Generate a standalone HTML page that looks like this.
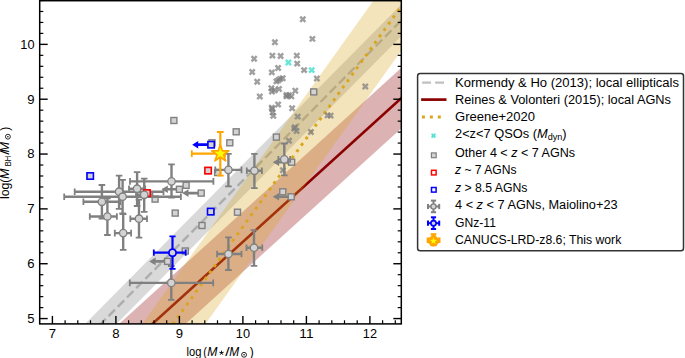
<!DOCTYPE html><html><head><meta charset="utf-8"><style>html,body{margin:0;padding:0;background:#fff;}svg{display:block;}text{font-family:"Liberation Sans",sans-serif;}</style></head><body>
<svg width="685" height="358" viewBox="0 0 685 358">
<defs><clipPath id="ax"><rect x="39.7" y="0.7" width="361.6" height="323.2"/></clipPath></defs>
<rect width="685" height="358" fill="#fff"/>
<g clip-path="url(#ax)">
<line x1="-11.1" y1="437.03" x2="433.4" y2="-12.11" stroke="#c0c0c0" stroke-width="2.4" stroke-dasharray="9.15 3.95" stroke-dashoffset="0.22"/>
<polygon points="-11.1,421.12 433.4,-28.02 433.4,3.79 -11.1,452.93" fill="#808080" fill-opacity="0.3"/>
<line x1="-11.1" y1="472.12" x2="433.4" y2="69.05" stroke="#8b0000" stroke-width="2.6"/>
<polygon points="-11.1,441.96 433.4,38.89 433.4,99.21 -11.1,502.29" fill="#8b0000" fill-opacity="0.3"/>
<line x1="-11.1" y1="580.07" x2="433.4" y2="-38.36" stroke="#daa520" stroke-width="2.96" stroke-dasharray="2.96 4.9" stroke-dashoffset="7.27"/>
<polygon points="-11.1,538.62 433.4,-83.27 433.4,5.95 -11.1,625.91" fill="#daa520" fill-opacity="0.3"/>
<polygon points="301.07,15.85 302.8,17.57 304.53,15.85 306.25,17.57 304.53,19.3 306.25,21.03 304.53,22.75 302.8,21.03 301.07,22.75 299.35,21.03 301.07,19.3 299.35,17.57" fill="#808080" fill-opacity="0.75"/>
<polygon points="310.67,35.45 312.4,37.17 314.12,35.45 315.85,37.17 314.12,38.9 315.85,40.62 314.12,42.35 312.4,40.62 310.67,42.35 308.95,40.62 310.67,38.9 308.95,37.17" fill="#808080" fill-opacity="0.75"/>
<polygon points="273.17,38.75 274.9,40.48 276.62,38.75 278.35,40.48 276.62,42.2 278.35,43.93 276.62,45.65 274.9,43.93 273.17,45.65 271.45,43.93 273.17,42.2 271.45,40.48" fill="#808080" fill-opacity="0.75"/>
<polygon points="270.67,52.15 272.4,53.88 274.12,52.15 275.85,53.88 274.12,55.6 275.85,57.33 274.12,59.05 272.4,57.33 270.67,59.05 268.95,57.33 270.67,55.6 268.95,53.88" fill="#808080" fill-opacity="0.75"/>
<polygon points="278.88,52.55 280.6,54.27 282.33,52.55 284.05,54.27 282.33,56 284.05,57.73 282.33,59.45 280.6,57.73 278.88,59.45 277.15,57.73 278.88,56 277.15,54.27" fill="#808080" fill-opacity="0.75"/>
<polygon points="295.07,52.15 296.8,53.88 298.53,52.15 300.25,53.88 298.53,55.6 300.25,57.33 298.53,59.05 296.8,57.33 295.07,59.05 293.35,57.33 295.07,55.6 293.35,53.88" fill="#808080" fill-opacity="0.75"/>
<polygon points="252.38,55.35 254.1,57.07 255.82,55.35 257.55,57.07 255.82,58.8 257.55,60.52 255.82,62.25 254.1,60.52 252.38,62.25 250.65,60.52 252.38,58.8 250.65,57.07" fill="#808080" fill-opacity="0.75"/>
<polygon points="295.47,60.15 297.2,61.88 298.93,60.15 300.65,61.88 298.93,63.6 300.65,65.33 298.93,67.05 297.2,65.33 295.47,67.05 293.75,65.33 295.47,63.6 293.75,61.88" fill="#808080" fill-opacity="0.75"/>
<polygon points="302.38,66.65 304.1,68.38 305.83,66.65 307.55,68.38 305.83,70.1 307.55,71.82 305.83,73.55 304.1,71.82 302.38,73.55 300.65,71.82 302.38,70.1 300.65,68.38" fill="#808080" fill-opacity="0.75"/>
<polygon points="250.47,68.55 252.2,70.28 253.92,68.55 255.65,70.28 253.92,72 255.65,73.72 253.92,75.45 252.2,73.72 250.47,75.45 248.75,73.72 250.47,72 248.75,70.28" fill="#808080" fill-opacity="0.75"/>
<polygon points="270.07,68.95 271.8,70.68 273.53,68.95 275.25,70.68 273.53,72.4 275.25,74.12 273.53,75.85 271.8,74.12 270.07,75.85 268.35,74.12 270.07,72.4 268.35,70.68" fill="#808080" fill-opacity="0.75"/>
<polygon points="276.38,64.55 278.1,66.28 279.83,64.55 281.55,66.28 279.83,68 281.55,69.72 279.83,71.45 278.1,69.72 276.38,71.45 274.65,69.72 276.38,68 274.65,66.28" fill="#808080" fill-opacity="0.75"/>
<polygon points="255.47,78.25 257.2,79.98 258.93,78.25 260.65,79.98 258.93,81.7 260.65,83.42 258.93,85.15 257.2,83.42 255.47,85.15 253.75,83.42 255.47,81.7 253.75,79.98" fill="#808080" fill-opacity="0.75"/>
<polygon points="274.67,77.95 276.4,79.68 278.12,77.95 279.85,79.68 278.12,81.4 279.85,83.12 278.12,84.85 276.4,83.12 274.67,84.85 272.95,83.12 274.67,81.4 272.95,79.68" fill="#808080" fill-opacity="0.75"/>
<polygon points="278.47,75.45 280.2,77.18 281.93,75.45 283.65,77.18 281.93,78.9 283.65,80.62 281.93,82.35 280.2,80.62 278.47,82.35 276.75,80.62 278.47,78.9 276.75,77.18" fill="#808080" fill-opacity="0.75"/>
<polygon points="280.97,74.85 282.7,76.58 284.43,74.85 286.15,76.58 284.43,78.3 286.15,80.02 284.43,81.75 282.7,80.02 280.97,81.75 279.25,80.02 280.97,78.3 279.25,76.58" fill="#808080" fill-opacity="0.75"/>
<polygon points="276.57,76.75 278.3,78.48 280.03,76.75 281.75,78.48 280.03,80.2 281.75,81.92 280.03,83.65 278.3,81.92 276.57,83.65 274.85,81.92 276.57,80.2 274.85,78.48" fill="#808080" fill-opacity="0.75"/>
<polygon points="269.67,84.85 271.4,86.58 273.12,84.85 274.85,86.58 273.12,88.3 274.85,90.02 273.12,91.75 271.4,90.02 269.67,91.75 267.95,90.02 269.67,88.3 267.95,86.58" fill="#808080" fill-opacity="0.75"/>
<polygon points="272.88,86.75 274.6,88.48 276.33,86.75 278.05,88.48 276.33,90.2 278.05,91.92 276.33,93.65 274.6,91.92 272.88,93.65 271.15,91.92 272.88,90.2 271.15,88.48" fill="#808080" fill-opacity="0.75"/>
<polygon points="277.27,85.55 279,87.28 280.73,85.55 282.45,87.28 280.73,89 282.45,90.72 280.73,92.45 279,90.72 277.27,92.45 275.55,90.72 277.27,89 275.55,87.28" fill="#808080" fill-opacity="0.75"/>
<polygon points="270.27,88.05 272,89.78 273.73,88.05 275.45,89.78 273.73,91.5 275.45,93.22 273.73,94.95 272,93.22 270.27,94.95 268.55,93.22 270.27,91.5 268.55,89.78" fill="#808080" fill-opacity="0.75"/>
<polygon points="284.77,91.55 286.5,93.28 288.23,91.55 289.95,93.28 288.23,95 289.95,96.72 288.23,98.45 286.5,96.72 284.77,98.45 283.05,96.72 284.77,95 283.05,93.28" fill="#808080" fill-opacity="0.75"/>
<polygon points="287.27,91.85 289,93.58 290.73,91.85 292.45,93.58 290.73,95.3 292.45,97.02 290.73,98.75 289,97.02 287.27,98.75 285.55,97.02 287.27,95.3 285.55,93.58" fill="#808080" fill-opacity="0.75"/>
<polygon points="293.57,87.35 295.3,89.08 297.03,87.35 298.75,89.08 297.03,90.8 298.75,92.52 297.03,94.25 295.3,92.52 293.57,94.25 291.85,92.52 293.57,90.8 291.85,89.08" fill="#808080" fill-opacity="0.75"/>
<polygon points="258.07,93.05 259.8,94.78 261.53,93.05 263.25,94.78 261.53,96.5 263.25,98.22 261.53,99.95 259.8,98.22 258.07,99.95 256.35,98.22 258.07,96.5 256.35,94.78" fill="#808080" fill-opacity="0.75"/>
<polygon points="315.07,75.05 316.8,76.78 318.53,75.05 320.25,76.78 318.53,78.5 320.25,80.22 318.53,81.95 316.8,80.22 315.07,81.95 313.35,80.22 315.07,78.5 313.35,76.78" fill="#808080" fill-opacity="0.75"/>
<polygon points="284.77,92.95 286.5,94.68 288.23,92.95 289.95,94.68 288.23,96.4 289.95,98.12 288.23,99.85 286.5,98.12 284.77,99.85 283.05,98.12 284.77,96.4 283.05,94.68" fill="#808080" fill-opacity="0.75"/>
<polygon points="289.67,92.95 291.4,94.68 293.12,92.95 294.85,94.68 293.12,96.4 294.85,98.12 293.12,99.85 291.4,98.12 289.67,99.85 287.95,98.12 289.67,96.4 287.95,94.68" fill="#808080" fill-opacity="0.75"/>
<polygon points="276.38,101.05 278.1,102.78 279.83,101.05 281.55,102.78 279.83,104.5 281.55,106.22 279.83,107.95 278.1,106.22 276.38,107.95 274.65,106.22 276.38,104.5 274.65,102.78" fill="#808080" fill-opacity="0.75"/>
<polygon points="270.57,105.55 272.3,107.28 274.03,105.55 275.75,107.28 274.03,109 275.75,110.72 274.03,112.45 272.3,110.72 270.57,112.45 268.85,110.72 270.57,109 268.85,107.28" fill="#808080" fill-opacity="0.75"/>
<polygon points="270.88,108.95 272.6,110.68 274.33,108.95 276.05,110.68 274.33,112.4 276.05,114.12 274.33,115.85 272.6,114.12 270.88,115.85 269.15,114.12 270.88,112.4 269.15,110.68" fill="#808080" fill-opacity="0.75"/>
<polygon points="271.57,112.45 273.3,114.18 275.03,112.45 276.75,114.18 275.03,115.9 276.75,117.62 275.03,119.35 273.3,117.62 271.57,119.35 269.85,117.62 271.57,115.9 269.85,114.18" fill="#808080" fill-opacity="0.75"/>
<polygon points="290.38,104.85 292.1,106.58 293.83,104.85 295.55,106.58 293.83,108.3 295.55,110.02 293.83,111.75 292.1,110.02 290.38,111.75 288.65,110.02 290.38,108.3 288.65,106.58" fill="#808080" fill-opacity="0.75"/>
<polygon points="295.97,113.15 297.7,114.88 299.43,113.15 301.15,114.88 299.43,116.6 301.15,118.32 299.43,120.05 297.7,118.32 295.97,120.05 294.25,118.32 295.97,116.6 294.25,114.88" fill="#808080" fill-opacity="0.75"/>
<polygon points="293.17,123.65 294.9,125.38 296.62,123.65 298.35,125.38 296.62,127.1 298.35,128.82 296.62,130.55 294.9,128.82 293.17,130.55 291.45,128.82 293.17,127.1 291.45,125.38" fill="#808080" fill-opacity="0.75"/>
<polygon points="294.88,127.55 296.6,129.28 298.33,127.55 300.05,129.28 298.33,131 300.05,132.72 298.33,134.45 296.6,132.72 294.88,134.45 293.15,132.72 294.88,131 293.15,129.28" fill="#808080" fill-opacity="0.75"/>
<polygon points="292.47,125.05 294.2,126.78 295.93,125.05 297.65,126.78 295.93,128.5 297.65,130.22 295.93,131.95 294.2,130.22 292.47,131.95 290.75,130.22 292.47,128.5 290.75,126.78" fill="#808080" fill-opacity="0.75"/>
<polygon points="309.17,128.55 310.9,130.28 312.62,128.55 314.35,130.28 312.62,132 314.35,133.72 312.62,135.45 310.9,133.72 309.17,135.45 307.45,133.72 309.17,132 307.45,130.28" fill="#808080" fill-opacity="0.75"/>
<polygon points="287.27,137.35 289,139.08 290.73,137.35 292.45,139.08 290.73,140.8 292.45,142.53 290.73,144.25 289,142.53 287.27,144.25 285.55,142.53 287.27,140.8 285.55,139.08" fill="#808080" fill-opacity="0.75"/>
<polygon points="325.88,111.95 327.6,113.68 329.33,111.95 331.05,113.68 329.33,115.4 331.05,117.12 329.33,118.85 327.6,117.12 325.88,118.85 324.15,117.12 325.88,115.4 324.15,113.68" fill="#808080" fill-opacity="0.75"/>
<polygon points="328.88,112.15 330.6,113.88 332.33,112.15 334.05,113.88 332.33,115.6 334.05,117.32 332.33,119.05 330.6,117.32 328.88,119.05 327.15,117.32 328.88,115.6 327.15,113.88" fill="#808080" fill-opacity="0.75"/>
<polygon points="363.57,83.05 365.3,84.78 367.03,83.05 368.75,84.78 367.03,86.5 368.75,88.22 367.03,89.95 365.3,88.22 363.57,89.95 361.85,88.22 363.57,86.5 361.85,84.78" fill="#808080" fill-opacity="0.75"/>
<polygon points="281.17,166.85 282.9,168.58 284.62,166.85 286.35,168.58 284.62,170.3 286.35,172.03 284.62,173.75 282.9,172.03 281.17,173.75 279.45,172.03 281.17,170.3 279.45,168.58" fill="#808080" fill-opacity="0.75"/>
<polygon points="270.07,104.35 271.8,106.08 273.53,104.35 275.25,106.08 273.53,107.8 275.25,109.52 273.53,111.25 271.8,109.52 270.07,111.25 268.35,109.52 270.07,107.8 268.35,106.08" fill="#808080" fill-opacity="0.75"/>
<polygon points="286.67,59.05 288.4,60.77 290.12,59.05 291.85,60.77 290.12,62.5 291.85,64.22 290.12,65.95 288.4,64.22 286.67,65.95 284.95,64.22 286.67,62.5 284.95,60.77" fill="#40e0d0" fill-opacity="0.8"/>
<polygon points="309.97,66.65 311.7,68.38 313.43,66.65 315.15,68.38 313.43,70.1 315.15,71.82 313.43,73.55 311.7,71.82 309.97,73.55 308.25,71.82 309.97,70.1 308.25,68.38" fill="#40e0d0" fill-opacity="0.8"/>
<rect x="170.9" y="117.5" width="6" height="6" fill="#d3d3d3" stroke="#808080" stroke-width="1.4"/>
<rect x="233.2" y="128.8" width="6" height="6" fill="#d3d3d3" stroke="#808080" stroke-width="1.4"/>
<rect x="226.8" y="139.8" width="6" height="6" fill="#d3d3d3" stroke="#808080" stroke-width="1.4"/>
<rect x="209" y="139.8" width="6" height="6" fill="#d3d3d3" stroke="#808080" stroke-width="1.4"/>
<rect x="214.6" y="169.5" width="6" height="6" fill="#d3d3d3" stroke="#808080" stroke-width="1.4"/>
<rect x="152.1" y="196.1" width="6" height="6" fill="#d3d3d3" stroke="#808080" stroke-width="1.4"/>
<line x1="179.4" y1="189.3" x2="167.4" y2="189.3" stroke="#808080" stroke-width="2.6"/><polygon points="161.5,189.3 167.9,185.5 167.9,193.1" fill="#808080"/>
<rect x="176.4" y="186.3" width="6" height="6" fill="#d3d3d3" stroke="#808080" stroke-width="1.4"/>
<rect x="183.1" y="182.3" width="6" height="6" fill="#d3d3d3" stroke="#808080" stroke-width="1.4"/>
<line x1="201.2" y1="193.1" x2="188" y2="193.1" stroke="#808080" stroke-width="2.6"/><polygon points="182.1,193.1 188.5,189.3 188.5,196.9" fill="#808080"/>
<rect x="198.2" y="190.1" width="6" height="6" fill="#d3d3d3" stroke="#808080" stroke-width="1.4"/>
<rect x="172.2" y="210.1" width="6" height="6" fill="#d3d3d3" stroke="#808080" stroke-width="1.4"/>
<rect x="199" y="222.5" width="6" height="6" fill="#d3d3d3" stroke="#808080" stroke-width="1.4"/>
<rect x="182.3" y="248" width="6" height="6" fill="#d3d3d3" stroke="#808080" stroke-width="1.4"/>
<line x1="167.6" y1="261.4" x2="155.1" y2="261.4" stroke="#808080" stroke-width="2.6"/><polygon points="149.2,261.4 155.6,257.6 155.6,265.2" fill="#808080"/>
<rect x="164.6" y="258.4" width="6" height="6" fill="#d3d3d3" stroke="#808080" stroke-width="1.4"/>
<rect x="234.5" y="209.2" width="6" height="6" fill="#d3d3d3" stroke="#808080" stroke-width="1.4"/>
<rect x="279.8" y="188.8" width="6" height="6" fill="#d3d3d3" stroke="#808080" stroke-width="1.4"/>
<line x1="291.2" y1="196.8" x2="278.6" y2="196.8" stroke="#808080" stroke-width="2.6"/><polygon points="272.7,196.8 279.1,193 279.1,200.6" fill="#808080"/>
<rect x="288.2" y="193.8" width="6" height="6" fill="#d3d3d3" stroke="#808080" stroke-width="1.4"/>
<line x1="291.7" y1="162.2" x2="278.6" y2="162.2" stroke="#808080" stroke-width="2.6"/><polygon points="272.7,162.2 279.1,158.4 279.1,166" fill="#808080"/>
<rect x="288.7" y="159.2" width="6" height="6" fill="#d3d3d3" stroke="#808080" stroke-width="1.4"/>
<rect x="273.4" y="134.1" width="6" height="6" fill="#d3d3d3" stroke="#808080" stroke-width="1.4"/>
<rect x="310.7" y="88.9" width="6" height="6" fill="#d3d3d3" stroke="#808080" stroke-width="1.4"/>
<rect x="87.2" y="173" width="6" height="6" fill="#d3d3d3" stroke="#808080" stroke-width="1.4"/>
<rect x="207.7" y="208.6" width="6" height="6" fill="#d3d3d3" stroke="#808080" stroke-width="1.4"/>
<rect x="205.1" y="167.6" width="6" height="6" fill="#d3d3d3" stroke="#808080" stroke-width="1.4"/>
<rect x="144" y="190.1" width="6" height="6" fill="#d3d3d3" stroke="#808080" stroke-width="1.4"/>
<line x1="83.4" y1="201.8" x2="120.4" y2="201.8" stroke="#808080" stroke-width="2.4"/><line x1="83.4" y1="198.5" x2="83.4" y2="205.1" stroke="#808080" stroke-width="1.8"/><line x1="120.4" y1="198.5" x2="120.4" y2="205.1" stroke="#808080" stroke-width="1.8"/><line x1="101.9" y1="185" x2="101.9" y2="218.5" stroke="#808080" stroke-width="2.4"/><line x1="98.6" y1="185" x2="105.2" y2="185" stroke="#808080" stroke-width="1.8"/><line x1="98.6" y1="218.5" x2="105.2" y2="218.5" stroke="#808080" stroke-width="1.8"/>
<line x1="74.7" y1="191.7" x2="163.5" y2="191.7" stroke="#808080" stroke-width="2.4"/><line x1="74.7" y1="188.4" x2="74.7" y2="195" stroke="#808080" stroke-width="1.8"/><line x1="163.5" y1="188.4" x2="163.5" y2="195" stroke="#808080" stroke-width="1.8"/><line x1="119.1" y1="175.7" x2="119.1" y2="208.9" stroke="#808080" stroke-width="2.4"/><line x1="115.8" y1="175.7" x2="122.4" y2="175.7" stroke="#808080" stroke-width="1.8"/><line x1="115.8" y1="208.9" x2="122.4" y2="208.9" stroke="#808080" stroke-width="1.8"/>
<line x1="64.2" y1="196.7" x2="180.9" y2="196.7" stroke="#808080" stroke-width="2.4"/><line x1="64.2" y1="193.4" x2="64.2" y2="200" stroke="#808080" stroke-width="1.8"/><line x1="180.9" y1="193.4" x2="180.9" y2="200" stroke="#808080" stroke-width="1.8"/><line x1="122.6" y1="179.9" x2="122.6" y2="213.5" stroke="#808080" stroke-width="2.4"/><line x1="119.3" y1="179.9" x2="125.9" y2="179.9" stroke="#808080" stroke-width="1.8"/><line x1="119.3" y1="213.5" x2="125.9" y2="213.5" stroke="#808080" stroke-width="1.8"/>
<line x1="129" y1="188.7" x2="145.2" y2="188.7" stroke="#808080" stroke-width="2.4"/><line x1="129" y1="185.4" x2="129" y2="192" stroke="#808080" stroke-width="1.8"/><line x1="145.2" y1="185.4" x2="145.2" y2="192" stroke="#808080" stroke-width="1.8"/><line x1="137.1" y1="172.2" x2="137.1" y2="206" stroke="#808080" stroke-width="2.4"/><line x1="133.8" y1="172.2" x2="140.4" y2="172.2" stroke="#808080" stroke-width="1.8"/><line x1="133.8" y1="206" x2="140.4" y2="206" stroke="#808080" stroke-width="1.8"/>
<line x1="136" y1="194.8" x2="152.4" y2="194.8" stroke="#808080" stroke-width="2.4"/><line x1="136" y1="191.5" x2="136" y2="198.1" stroke="#808080" stroke-width="1.8"/><line x1="152.4" y1="191.5" x2="152.4" y2="198.1" stroke="#808080" stroke-width="1.8"/><line x1="144.2" y1="178.6" x2="144.2" y2="211.8" stroke="#808080" stroke-width="2.4"/><line x1="140.9" y1="178.6" x2="147.5" y2="178.6" stroke="#808080" stroke-width="1.8"/><line x1="140.9" y1="211.8" x2="147.5" y2="211.8" stroke="#808080" stroke-width="1.8"/>
<line x1="130" y1="181.4" x2="213.4" y2="181.4" stroke="#808080" stroke-width="2.4"/><line x1="130" y1="178.1" x2="130" y2="184.7" stroke="#808080" stroke-width="1.8"/><line x1="213.4" y1="178.1" x2="213.4" y2="184.7" stroke="#808080" stroke-width="1.8"/><line x1="171.5" y1="164.3" x2="171.5" y2="197.5" stroke="#808080" stroke-width="2.4"/><line x1="168.2" y1="164.3" x2="174.8" y2="164.3" stroke="#808080" stroke-width="1.8"/><line x1="168.2" y1="197.5" x2="174.8" y2="197.5" stroke="#808080" stroke-width="1.8"/>
<line x1="89.8" y1="216.5" x2="116.9" y2="216.5" stroke="#808080" stroke-width="2.4"/><line x1="89.8" y1="213.2" x2="89.8" y2="219.8" stroke="#808080" stroke-width="1.8"/><line x1="116.9" y1="213.2" x2="116.9" y2="219.8" stroke="#808080" stroke-width="1.8"/><line x1="107.4" y1="198.4" x2="107.4" y2="235" stroke="#808080" stroke-width="2.4"/><line x1="104.1" y1="198.4" x2="110.7" y2="198.4" stroke="#808080" stroke-width="1.8"/><line x1="104.1" y1="235" x2="110.7" y2="235" stroke="#808080" stroke-width="1.8"/>
<line x1="130.3" y1="218.7" x2="147" y2="218.7" stroke="#808080" stroke-width="2.4"/><line x1="130.3" y1="215.4" x2="130.3" y2="222" stroke="#808080" stroke-width="1.8"/><line x1="147" y1="215.4" x2="147" y2="222" stroke="#808080" stroke-width="1.8"/><line x1="139" y1="199.7" x2="139" y2="237.7" stroke="#808080" stroke-width="2.4"/><line x1="135.7" y1="199.7" x2="142.3" y2="199.7" stroke="#808080" stroke-width="1.8"/><line x1="135.7" y1="237.7" x2="142.3" y2="237.7" stroke="#808080" stroke-width="1.8"/>
<line x1="114.8" y1="233.1" x2="131.1" y2="233.1" stroke="#808080" stroke-width="2.4"/><line x1="114.8" y1="229.8" x2="114.8" y2="236.4" stroke="#808080" stroke-width="1.8"/><line x1="131.1" y1="229.8" x2="131.1" y2="236.4" stroke="#808080" stroke-width="1.8"/><line x1="123.2" y1="214.2" x2="123.2" y2="249.9" stroke="#808080" stroke-width="2.4"/><line x1="119.9" y1="214.2" x2="126.5" y2="214.2" stroke="#808080" stroke-width="1.8"/><line x1="119.9" y1="249.9" x2="126.5" y2="249.9" stroke="#808080" stroke-width="1.8"/>
<line x1="129.8" y1="282.9" x2="213.2" y2="282.9" stroke="#808080" stroke-width="2.4"/><line x1="129.8" y1="279.6" x2="129.8" y2="286.2" stroke="#808080" stroke-width="1.8"/><line x1="213.2" y1="279.6" x2="213.2" y2="286.2" stroke="#808080" stroke-width="1.8"/><line x1="171.3" y1="266" x2="171.3" y2="299.8" stroke="#808080" stroke-width="2.4"/><line x1="168" y1="266" x2="174.6" y2="266" stroke="#808080" stroke-width="1.8"/><line x1="168" y1="299.8" x2="174.6" y2="299.8" stroke="#808080" stroke-width="1.8"/>
<line x1="215.3" y1="169.9" x2="241.5" y2="169.9" stroke="#808080" stroke-width="2.4"/><line x1="215.3" y1="166.6" x2="215.3" y2="173.2" stroke="#808080" stroke-width="1.8"/><line x1="241.5" y1="166.6" x2="241.5" y2="173.2" stroke="#808080" stroke-width="1.8"/><line x1="228.4" y1="153.8" x2="228.4" y2="186.3" stroke="#808080" stroke-width="2.4"/><line x1="225.1" y1="153.8" x2="231.7" y2="153.8" stroke="#808080" stroke-width="1.8"/><line x1="225.1" y1="186.3" x2="231.7" y2="186.3" stroke="#808080" stroke-width="1.8"/>
<line x1="246.8" y1="170.8" x2="261.9" y2="170.8" stroke="#808080" stroke-width="2.4"/><line x1="246.8" y1="167.5" x2="246.8" y2="174.1" stroke="#808080" stroke-width="1.8"/><line x1="261.9" y1="167.5" x2="261.9" y2="174.1" stroke="#808080" stroke-width="1.8"/><line x1="254.4" y1="153.8" x2="254.4" y2="188.1" stroke="#808080" stroke-width="2.4"/><line x1="251.1" y1="153.8" x2="257.7" y2="153.8" stroke="#808080" stroke-width="1.8"/><line x1="251.1" y1="188.1" x2="257.7" y2="188.1" stroke="#808080" stroke-width="1.8"/>
<line x1="278.4" y1="159.4" x2="290.2" y2="159.4" stroke="#808080" stroke-width="2.4"/><line x1="278.4" y1="156.1" x2="278.4" y2="162.7" stroke="#808080" stroke-width="1.8"/><line x1="290.2" y1="156.1" x2="290.2" y2="162.7" stroke="#808080" stroke-width="1.8"/><line x1="284.3" y1="143.5" x2="284.3" y2="175.3" stroke="#808080" stroke-width="2.4"/><line x1="281" y1="143.5" x2="287.6" y2="143.5" stroke="#808080" stroke-width="1.8"/><line x1="281" y1="175.3" x2="287.6" y2="175.3" stroke="#808080" stroke-width="1.8"/>
<line x1="217.1" y1="254" x2="241.5" y2="254" stroke="#808080" stroke-width="2.4"/><line x1="217.1" y1="250.7" x2="217.1" y2="257.3" stroke="#808080" stroke-width="1.8"/><line x1="241.5" y1="250.7" x2="241.5" y2="257.3" stroke="#808080" stroke-width="1.8"/><line x1="228.4" y1="237.3" x2="228.4" y2="270" stroke="#808080" stroke-width="2.4"/><line x1="225.1" y1="237.3" x2="231.7" y2="237.3" stroke="#808080" stroke-width="1.8"/><line x1="225.1" y1="270" x2="231.7" y2="270" stroke="#808080" stroke-width="1.8"/>
<line x1="246.5" y1="247.7" x2="262.3" y2="247.7" stroke="#808080" stroke-width="2.4"/><line x1="246.5" y1="244.4" x2="246.5" y2="251" stroke="#808080" stroke-width="1.8"/><line x1="262.3" y1="244.4" x2="262.3" y2="251" stroke="#808080" stroke-width="1.8"/><line x1="254" y1="230.1" x2="254" y2="265.8" stroke="#808080" stroke-width="2.4"/><line x1="250.7" y1="230.1" x2="257.3" y2="230.1" stroke="#808080" stroke-width="1.8"/><line x1="250.7" y1="265.8" x2="257.3" y2="265.8" stroke="#808080" stroke-width="1.8"/>
<line x1="211.1" y1="144.7" x2="197.7" y2="144.7" stroke="#0000ff" stroke-width="2.8"/><polygon points="192.2,144.7 198.2,140.9 198.2,148.5" fill="#0000ff"/>
<rect x="87" y="172.8" width="6.4" height="6.4" fill="#d3d3d3" stroke="#0000ff" stroke-width="1.6"/>
<rect x="207.9" y="141.5" width="6.4" height="6.4" fill="#d3d3d3" stroke="#0000ff" stroke-width="1.6"/>
<rect x="207.5" y="208.4" width="6.4" height="6.4" fill="#d3d3d3" stroke="#0000ff" stroke-width="1.6"/>
<rect x="204.9" y="167.4" width="6.4" height="6.4" fill="#d3d3d3" stroke="#ff0000" stroke-width="1.6"/>
<rect x="143.8" y="189.9" width="6.4" height="6.4" fill="#d3d3d3" stroke="#ff0000" stroke-width="1.6"/>
<circle cx="101.9" cy="201.8" r="3.7" fill="#d3d3d3" stroke="#808080" stroke-width="1.3"/>
<circle cx="119.1" cy="191.7" r="3.7" fill="#d3d3d3" stroke="#808080" stroke-width="1.3"/>
<circle cx="122.6" cy="196.7" r="3.7" fill="#d3d3d3" stroke="#808080" stroke-width="1.3"/>
<circle cx="137.1" cy="188.7" r="3.7" fill="#d3d3d3" stroke="#808080" stroke-width="1.3"/>
<circle cx="144.2" cy="194.8" r="3.7" fill="#d3d3d3" stroke="#808080" stroke-width="1.3"/>
<circle cx="171.5" cy="181.4" r="3.7" fill="#d3d3d3" stroke="#808080" stroke-width="1.3"/>
<circle cx="107.4" cy="216.5" r="3.7" fill="#d3d3d3" stroke="#808080" stroke-width="1.3"/>
<circle cx="139" cy="218.7" r="3.7" fill="#d3d3d3" stroke="#808080" stroke-width="1.3"/>
<circle cx="123.2" cy="233.1" r="3.7" fill="#d3d3d3" stroke="#808080" stroke-width="1.3"/>
<circle cx="171.3" cy="282.9" r="3.7" fill="#d3d3d3" stroke="#808080" stroke-width="1.3"/>
<circle cx="228.4" cy="169.9" r="3.7" fill="#d3d3d3" stroke="#808080" stroke-width="1.3"/>
<circle cx="254.4" cy="170.8" r="3.7" fill="#d3d3d3" stroke="#808080" stroke-width="1.3"/>
<circle cx="284.3" cy="159.4" r="3.7" fill="#d3d3d3" stroke="#808080" stroke-width="1.3"/>
<circle cx="228.4" cy="254" r="3.7" fill="#d3d3d3" stroke="#808080" stroke-width="1.3"/>
<circle cx="254" cy="247.7" r="3.7" fill="#d3d3d3" stroke="#808080" stroke-width="1.3"/>
<line x1="153.8" y1="252.7" x2="185.7" y2="252.7" stroke="#0000ff" stroke-width="2.2"/><line x1="153.8" y1="249.6" x2="153.8" y2="255.8" stroke="#0000ff" stroke-width="1.8"/><line x1="185.7" y1="249.6" x2="185.7" y2="255.8" stroke="#0000ff" stroke-width="1.8"/><line x1="172.5" y1="236.4" x2="172.5" y2="268.9" stroke="#0000ff" stroke-width="2.2"/><line x1="169.4" y1="236.4" x2="175.6" y2="236.4" stroke="#0000ff" stroke-width="1.8"/><line x1="169.4" y1="268.9" x2="175.6" y2="268.9" stroke="#0000ff" stroke-width="1.8"/>
<circle cx="172.5" cy="252.7" r="3.6" fill="#d3d3d3" stroke="#0000ff" stroke-width="1.8"/>
<line x1="191.8" y1="153.6" x2="225" y2="153.6" stroke="#ffa500" stroke-width="2.2"/><line x1="191.8" y1="150.2" x2="191.8" y2="157" stroke="#ffa500" stroke-width="1.8"/><line x1="225" y1="150.2" x2="225" y2="157" stroke="#ffa500" stroke-width="1.8"/><line x1="220.3" y1="132" x2="220.3" y2="175.6" stroke="#ffa500" stroke-width="2.2"/><line x1="216.9" y1="132" x2="223.7" y2="132" stroke="#ffa500" stroke-width="1.8"/><line x1="216.9" y1="175.6" x2="223.7" y2="175.6" stroke="#ffa500" stroke-width="1.8"/>
<polygon points="220.3,144.6 222.32,150.82 228.86,150.82 223.57,154.66 225.59,160.88 220.3,157.04 215.01,160.88 217.03,154.66 211.74,150.82 218.28,150.82" fill="#ffff00" stroke="#ffa500" stroke-width="1.7" stroke-linejoin="round"/>
</g>
<line x1="52.4" y1="323.9" x2="52.4" y2="315.9" stroke="#000" stroke-width="1.4"/><line x1="65.1" y1="323.9" x2="65.1" y2="320.3" stroke="#000" stroke-width="1.2"/><line x1="77.8" y1="323.9" x2="77.8" y2="320.3" stroke="#000" stroke-width="1.2"/><line x1="90.5" y1="323.9" x2="90.5" y2="320.3" stroke="#000" stroke-width="1.2"/><line x1="103.2" y1="323.9" x2="103.2" y2="320.3" stroke="#000" stroke-width="1.2"/><line x1="115.9" y1="323.9" x2="115.9" y2="315.9" stroke="#000" stroke-width="1.4"/><line x1="128.6" y1="323.9" x2="128.6" y2="320.3" stroke="#000" stroke-width="1.2"/><line x1="141.3" y1="323.9" x2="141.3" y2="320.3" stroke="#000" stroke-width="1.2"/><line x1="154" y1="323.9" x2="154" y2="320.3" stroke="#000" stroke-width="1.2"/><line x1="166.7" y1="323.9" x2="166.7" y2="320.3" stroke="#000" stroke-width="1.2"/><line x1="179.4" y1="323.9" x2="179.4" y2="315.9" stroke="#000" stroke-width="1.4"/><line x1="192.1" y1="323.9" x2="192.1" y2="320.3" stroke="#000" stroke-width="1.2"/><line x1="204.8" y1="323.9" x2="204.8" y2="320.3" stroke="#000" stroke-width="1.2"/><line x1="217.5" y1="323.9" x2="217.5" y2="320.3" stroke="#000" stroke-width="1.2"/><line x1="230.2" y1="323.9" x2="230.2" y2="320.3" stroke="#000" stroke-width="1.2"/><line x1="242.9" y1="323.9" x2="242.9" y2="315.9" stroke="#000" stroke-width="1.4"/><line x1="255.6" y1="323.9" x2="255.6" y2="320.3" stroke="#000" stroke-width="1.2"/><line x1="268.3" y1="323.9" x2="268.3" y2="320.3" stroke="#000" stroke-width="1.2"/><line x1="281" y1="323.9" x2="281" y2="320.3" stroke="#000" stroke-width="1.2"/><line x1="293.7" y1="323.9" x2="293.7" y2="320.3" stroke="#000" stroke-width="1.2"/><line x1="306.4" y1="323.9" x2="306.4" y2="315.9" stroke="#000" stroke-width="1.4"/><line x1="319.1" y1="323.9" x2="319.1" y2="320.3" stroke="#000" stroke-width="1.2"/><line x1="331.8" y1="323.9" x2="331.8" y2="320.3" stroke="#000" stroke-width="1.2"/><line x1="344.5" y1="323.9" x2="344.5" y2="320.3" stroke="#000" stroke-width="1.2"/><line x1="357.2" y1="323.9" x2="357.2" y2="320.3" stroke="#000" stroke-width="1.2"/><line x1="369.9" y1="323.9" x2="369.9" y2="315.9" stroke="#000" stroke-width="1.4"/><line x1="382.6" y1="323.9" x2="382.6" y2="320.3" stroke="#000" stroke-width="1.2"/><line x1="395.3" y1="323.9" x2="395.3" y2="320.3" stroke="#000" stroke-width="1.2"/><line x1="39.7" y1="318.57" x2="47.7" y2="318.57" stroke="#000" stroke-width="1.4"/><line x1="401.3" y1="318.57" x2="393.3" y2="318.57" stroke="#000" stroke-width="1.4"/><line x1="39.7" y1="307.6" x2="43.3" y2="307.6" stroke="#000" stroke-width="1.2"/><line x1="401.3" y1="307.6" x2="397.7" y2="307.6" stroke="#000" stroke-width="1.2"/><line x1="39.7" y1="296.64" x2="43.3" y2="296.64" stroke="#000" stroke-width="1.2"/><line x1="401.3" y1="296.64" x2="397.7" y2="296.64" stroke="#000" stroke-width="1.2"/><line x1="39.7" y1="285.67" x2="43.3" y2="285.67" stroke="#000" stroke-width="1.2"/><line x1="401.3" y1="285.67" x2="397.7" y2="285.67" stroke="#000" stroke-width="1.2"/><line x1="39.7" y1="274.7" x2="43.3" y2="274.7" stroke="#000" stroke-width="1.2"/><line x1="401.3" y1="274.7" x2="397.7" y2="274.7" stroke="#000" stroke-width="1.2"/><line x1="39.7" y1="263.73" x2="47.7" y2="263.73" stroke="#000" stroke-width="1.4"/><line x1="401.3" y1="263.73" x2="393.3" y2="263.73" stroke="#000" stroke-width="1.4"/><line x1="39.7" y1="252.76" x2="43.3" y2="252.76" stroke="#000" stroke-width="1.2"/><line x1="401.3" y1="252.76" x2="397.7" y2="252.76" stroke="#000" stroke-width="1.2"/><line x1="39.7" y1="241.8" x2="43.3" y2="241.8" stroke="#000" stroke-width="1.2"/><line x1="401.3" y1="241.8" x2="397.7" y2="241.8" stroke="#000" stroke-width="1.2"/><line x1="39.7" y1="230.83" x2="43.3" y2="230.83" stroke="#000" stroke-width="1.2"/><line x1="401.3" y1="230.83" x2="397.7" y2="230.83" stroke="#000" stroke-width="1.2"/><line x1="39.7" y1="219.86" x2="43.3" y2="219.86" stroke="#000" stroke-width="1.2"/><line x1="401.3" y1="219.86" x2="397.7" y2="219.86" stroke="#000" stroke-width="1.2"/><line x1="39.7" y1="208.89" x2="47.7" y2="208.89" stroke="#000" stroke-width="1.4"/><line x1="401.3" y1="208.89" x2="393.3" y2="208.89" stroke="#000" stroke-width="1.4"/><line x1="39.7" y1="197.92" x2="43.3" y2="197.92" stroke="#000" stroke-width="1.2"/><line x1="401.3" y1="197.92" x2="397.7" y2="197.92" stroke="#000" stroke-width="1.2"/><line x1="39.7" y1="186.96" x2="43.3" y2="186.96" stroke="#000" stroke-width="1.2"/><line x1="401.3" y1="186.96" x2="397.7" y2="186.96" stroke="#000" stroke-width="1.2"/><line x1="39.7" y1="175.99" x2="43.3" y2="175.99" stroke="#000" stroke-width="1.2"/><line x1="401.3" y1="175.99" x2="397.7" y2="175.99" stroke="#000" stroke-width="1.2"/><line x1="39.7" y1="165.02" x2="43.3" y2="165.02" stroke="#000" stroke-width="1.2"/><line x1="401.3" y1="165.02" x2="397.7" y2="165.02" stroke="#000" stroke-width="1.2"/><line x1="39.7" y1="154.05" x2="47.7" y2="154.05" stroke="#000" stroke-width="1.4"/><line x1="401.3" y1="154.05" x2="393.3" y2="154.05" stroke="#000" stroke-width="1.4"/><line x1="39.7" y1="143.08" x2="43.3" y2="143.08" stroke="#000" stroke-width="1.2"/><line x1="401.3" y1="143.08" x2="397.7" y2="143.08" stroke="#000" stroke-width="1.2"/><line x1="39.7" y1="132.12" x2="43.3" y2="132.12" stroke="#000" stroke-width="1.2"/><line x1="401.3" y1="132.12" x2="397.7" y2="132.12" stroke="#000" stroke-width="1.2"/><line x1="39.7" y1="121.15" x2="43.3" y2="121.15" stroke="#000" stroke-width="1.2"/><line x1="401.3" y1="121.15" x2="397.7" y2="121.15" stroke="#000" stroke-width="1.2"/><line x1="39.7" y1="110.18" x2="43.3" y2="110.18" stroke="#000" stroke-width="1.2"/><line x1="401.3" y1="110.18" x2="397.7" y2="110.18" stroke="#000" stroke-width="1.2"/><line x1="39.7" y1="99.21" x2="47.7" y2="99.21" stroke="#000" stroke-width="1.4"/><line x1="401.3" y1="99.21" x2="393.3" y2="99.21" stroke="#000" stroke-width="1.4"/><line x1="39.7" y1="88.24" x2="43.3" y2="88.24" stroke="#000" stroke-width="1.2"/><line x1="401.3" y1="88.24" x2="397.7" y2="88.24" stroke="#000" stroke-width="1.2"/><line x1="39.7" y1="77.28" x2="43.3" y2="77.28" stroke="#000" stroke-width="1.2"/><line x1="401.3" y1="77.28" x2="397.7" y2="77.28" stroke="#000" stroke-width="1.2"/><line x1="39.7" y1="66.31" x2="43.3" y2="66.31" stroke="#000" stroke-width="1.2"/><line x1="401.3" y1="66.31" x2="397.7" y2="66.31" stroke="#000" stroke-width="1.2"/><line x1="39.7" y1="55.34" x2="43.3" y2="55.34" stroke="#000" stroke-width="1.2"/><line x1="401.3" y1="55.34" x2="397.7" y2="55.34" stroke="#000" stroke-width="1.2"/><line x1="39.7" y1="44.37" x2="47.7" y2="44.37" stroke="#000" stroke-width="1.4"/><line x1="401.3" y1="44.37" x2="393.3" y2="44.37" stroke="#000" stroke-width="1.4"/><line x1="39.7" y1="33.4" x2="43.3" y2="33.4" stroke="#000" stroke-width="1.2"/><line x1="401.3" y1="33.4" x2="397.7" y2="33.4" stroke="#000" stroke-width="1.2"/><line x1="39.7" y1="22.44" x2="43.3" y2="22.44" stroke="#000" stroke-width="1.2"/><line x1="401.3" y1="22.44" x2="397.7" y2="22.44" stroke="#000" stroke-width="1.2"/><line x1="39.7" y1="11.47" x2="43.3" y2="11.47" stroke="#000" stroke-width="1.2"/><line x1="401.3" y1="11.47" x2="397.7" y2="11.47" stroke="#000" stroke-width="1.2"/><line x1="39.7" y1="0.5" x2="43.3" y2="0.5" stroke="#000" stroke-width="1.2"/><line x1="401.3" y1="0.5" x2="397.7" y2="0.5" stroke="#000" stroke-width="1.2"/>
<rect x="39.7" y="0.7" width="361.6" height="323.2" fill="none" stroke="#000" stroke-width="1.5"/>
<text x="48.75" y="337.8" font-size="12" fill="#000" textLength="7.3" lengthAdjust="spacingAndGlyphs">7</text>
<text x="112.25" y="337.8" font-size="12" fill="#000" textLength="7.3" lengthAdjust="spacingAndGlyphs">8</text>
<text x="175.75" y="337.8" font-size="12" fill="#000" textLength="7.3" lengthAdjust="spacingAndGlyphs">9</text>
<text x="235.8" y="337.8" font-size="12" fill="#000" textLength="14.2" lengthAdjust="spacingAndGlyphs">10</text>
<text x="299.3" y="337.8" font-size="12" fill="#000" textLength="14.2" lengthAdjust="spacingAndGlyphs">11</text>
<text x="362.8" y="337.8" font-size="12" fill="#000" textLength="14.2" lengthAdjust="spacingAndGlyphs">12</text>
<text x="27.2" y="322.87" font-size="12" fill="#000" textLength="7.3" lengthAdjust="spacingAndGlyphs">5</text>
<text x="27.2" y="268.03" font-size="12" fill="#000" textLength="7.3" lengthAdjust="spacingAndGlyphs">6</text>
<text x="27.2" y="213.19" font-size="12" fill="#000" textLength="7.3" lengthAdjust="spacingAndGlyphs">7</text>
<text x="27.2" y="158.35" font-size="12" fill="#000" textLength="7.3" lengthAdjust="spacingAndGlyphs">8</text>
<text x="27.2" y="103.51" font-size="12" fill="#000" textLength="7.3" lengthAdjust="spacingAndGlyphs">9</text>
<text x="20.3" y="48.67" font-size="12" fill="#000" textLength="14.2" lengthAdjust="spacingAndGlyphs">10</text>
<g transform="translate(186.6,355.8)"><text x="0" y="0" font-size="12" fill="#000" textLength="14.9" lengthAdjust="spacingAndGlyphs">log</text><text x="16.6" y="0" font-size="12" fill="#000" textLength="3.6" lengthAdjust="spacingAndGlyphs">(</text><text x="20.6" y="0" font-size="12" font-style="italic" fill="#000" textLength="10.2" lengthAdjust="spacingAndGlyphs">M</text><path d="M34.9,-2.9L34.9,-4.8M34.9,-2.9L36.71,-3.49M34.9,-2.9L36.02,-1.36M34.9,-2.9L33.78,-1.36M34.9,-2.9L33.09,-3.49" stroke="#000" stroke-width="0.9" fill="none" stroke-linecap="round"/><text x="38.6" y="0" font-size="12" fill="#000" textLength="4.4" lengthAdjust="spacingAndGlyphs">/</text><text x="42.6" y="0" font-size="12" font-style="italic" fill="#000" textLength="9.9" lengthAdjust="spacingAndGlyphs">M</text><circle cx="57.45" cy="-1.0" r="2.45" fill="none" stroke="#000" stroke-width="0.85"/><circle cx="57.45" cy="-1.0" r="0.75" fill="#000"/><text x="63.2" y="0" font-size="12" fill="#000" textLength="4" lengthAdjust="spacingAndGlyphs">)</text></g>
<g transform="translate(8.9,199.0) rotate(-90)"><text x="0" y="0" font-size="12" fill="#000" textLength="20.3" lengthAdjust="spacingAndGlyphs">log(</text><text x="19.9" y="0" font-size="12" font-style="italic" fill="#000" textLength="10.4" lengthAdjust="spacingAndGlyphs">M</text><text x="32.8" y="2.3" font-size="8.5" fill="#000" textLength="10.5" lengthAdjust="spacingAndGlyphs">BH</text><text x="44.3" y="0" font-size="12" fill="#000" textLength="4.4" lengthAdjust="spacingAndGlyphs">/</text><text x="46.6" y="0" font-size="12" font-style="italic" fill="#000" textLength="10.6" lengthAdjust="spacingAndGlyphs">M</text><circle cx="62.3" cy="-1.0" r="2.45" fill="none" stroke="#000" stroke-width="0.85"/><circle cx="62.3" cy="-1.0" r="0.75" fill="#000"/><text x="68.2" y="0" font-size="12" fill="#000" textLength="4" lengthAdjust="spacingAndGlyphs">)</text></g>
<rect x="417.6" y="73.5" width="265.9" height="177.3" rx="2.5" ry="2.5" fill="#fff" stroke="#333" stroke-width="1.5"/>
<line x1="422.1" y1="82.6" x2="445.5" y2="82.6" stroke="#c0c0c0" stroke-width="2.4" stroke-dasharray="8.9 4.1"/>
<line x1="421.1" y1="99.6" x2="446.5" y2="99.6" stroke="#8b0000" stroke-width="2.7"/>
<line x1="421.9" y1="116.9" x2="445.5" y2="116.9" stroke="#daa520" stroke-width="3" stroke-dasharray="3 4.95"/>
<polygon points="432.2,133.1 433.5,134.4 434.8,133.1 436.1,134.4 434.8,135.7 436.1,137 434.8,138.3 433.5,137 432.2,138.3 430.9,137 432.2,135.7 430.9,134.4" fill="#40e0d0" fill-opacity="0.8"/>
<circle cx="433.5" cy="135.7" r="1.7" fill="#40e0d0" fill-opacity="0.6"/>
<rect x="431.4" y="152.9" width="4.8" height="4.8" fill="#d3d3d3" stroke="#808080" stroke-width="1.2"/>
<rect x="431.5" y="170.3" width="4.6" height="4.6" fill="#fff" stroke="#ff0000" stroke-width="1.5"/>
<rect x="431.5" y="187.5" width="4.6" height="4.6" fill="#fff" stroke="#0000ff" stroke-width="1.5"/>
<line x1="428" y1="206.5" x2="439.2" y2="206.5" stroke="#808080" stroke-width="2.0"/><line x1="428" y1="203.9" x2="428" y2="209.1" stroke="#808080" stroke-width="2.0"/><line x1="439.2" y1="203.9" x2="439.2" y2="209.1" stroke="#808080" stroke-width="2.0"/><line x1="433.5" y1="200.6" x2="433.5" y2="212.2" stroke="#808080" stroke-width="2.0"/><line x1="430.9" y1="200.6" x2="436.1" y2="200.6" stroke="#808080" stroke-width="2.0"/><line x1="430.9" y1="212.2" x2="436.1" y2="212.2" stroke="#808080" stroke-width="2.0"/>
<circle cx="433.5" cy="206.5" r="2.6" fill="#d3d3d3" stroke="#808080" stroke-width="1.4"/>
<line x1="428" y1="223.2" x2="439.2" y2="223.2" stroke="#0000ff" stroke-width="2.0"/><line x1="428" y1="220.6" x2="428" y2="225.8" stroke="#0000ff" stroke-width="2.0"/><line x1="439.2" y1="220.6" x2="439.2" y2="225.8" stroke="#0000ff" stroke-width="2.0"/><line x1="433.5" y1="217.3" x2="433.5" y2="229" stroke="#0000ff" stroke-width="2.0"/><line x1="430.9" y1="217.3" x2="436.1" y2="217.3" stroke="#0000ff" stroke-width="2.0"/><line x1="430.9" y1="229" x2="436.1" y2="229" stroke="#0000ff" stroke-width="2.0"/>
<circle cx="433.5" cy="223.2" r="2.6" fill="#d3d3d3" stroke="#0000ff" stroke-width="1.6"/>
<line x1="427.9" y1="240.2" x2="439.3" y2="240.2" stroke="#ffa500" stroke-width="2.4"/><line x1="427.9" y1="237.4" x2="427.9" y2="243" stroke="#ffa500" stroke-width="2.4"/><line x1="439.3" y1="237.4" x2="439.3" y2="243" stroke="#ffa500" stroke-width="2.4"/><line x1="433.5" y1="234.4" x2="433.5" y2="245" stroke="#ffa500" stroke-width="2.4"/><line x1="430.7" y1="234.4" x2="436.3" y2="234.4" stroke="#ffa500" stroke-width="2.4"/><line x1="430.7" y1="245" x2="436.3" y2="245" stroke="#ffa500" stroke-width="2.4"/>
<circle cx="433.5" cy="241" r="5" fill="#ffa500" stroke="#ffa500" stroke-width="1.0"/>
<polygon points="433.5,235.8 434.67,239.39 438.45,239.39 435.39,241.61 436.56,245.21 433.5,242.99 430.44,245.21 431.61,241.61 428.55,239.39 432.33,239.39" fill="#ffff00" stroke="#ffa500" stroke-width="1.0" stroke-linejoin="round"/>
<text x="455.0" y="86.8" font-size="12" fill="#000" textLength="224" lengthAdjust="spacingAndGlyphs">Kormendy &amp; Ho (2013); local ellipticals</text>
<text x="455.0" y="103.6" font-size="12" fill="#000" textLength="216" lengthAdjust="spacingAndGlyphs">Reines &amp; Volonteri (2015); local AGNs</text>
<text x="455.0" y="120.8" font-size="12" fill="#000" textLength="80" lengthAdjust="spacingAndGlyphs">Greene+2020</text>
<text x="455.0" y="137.9" font-size="12" fill="#000" textLength="111.6" lengthAdjust="spacingAndGlyphs">2&lt;z&lt;7 QSOs (<tspan font-style="italic">M</tspan><tspan font-size="8.5" dy="2">dyn</tspan><tspan dy="-2">)</tspan></text>
<text x="455.0" y="157.2" font-size="12" fill="#000" textLength="120" lengthAdjust="spacingAndGlyphs">Other 4 &lt; <tspan font-style="italic">z</tspan> &lt; 7 AGNs</text>
<text x="455.0" y="174.4" font-size="12" fill="#000" textLength="61.6" lengthAdjust="spacingAndGlyphs"><tspan font-style="italic">z</tspan> ~ 7 AGNs</text>
<text x="455.0" y="191.5" font-size="12" fill="#000" textLength="72.5" lengthAdjust="spacingAndGlyphs"><tspan font-style="italic">z</tspan> &gt; 8.5 AGNs</text>
<text x="455.0" y="209.0" font-size="12" fill="#000" textLength="162.6" lengthAdjust="spacingAndGlyphs">4 &lt; <tspan font-style="italic">z</tspan> &lt; 7 AGNs, Maiolino+23</text>
<text x="455.0" y="226.9" font-size="12" fill="#000" textLength="40.9" lengthAdjust="spacingAndGlyphs">GNz-11</text>
<text x="455.0" y="243.7" font-size="12" fill="#000" textLength="166.3" lengthAdjust="spacingAndGlyphs">CANUCS-LRD-z8.6; This work</text>
</svg></body></html>
